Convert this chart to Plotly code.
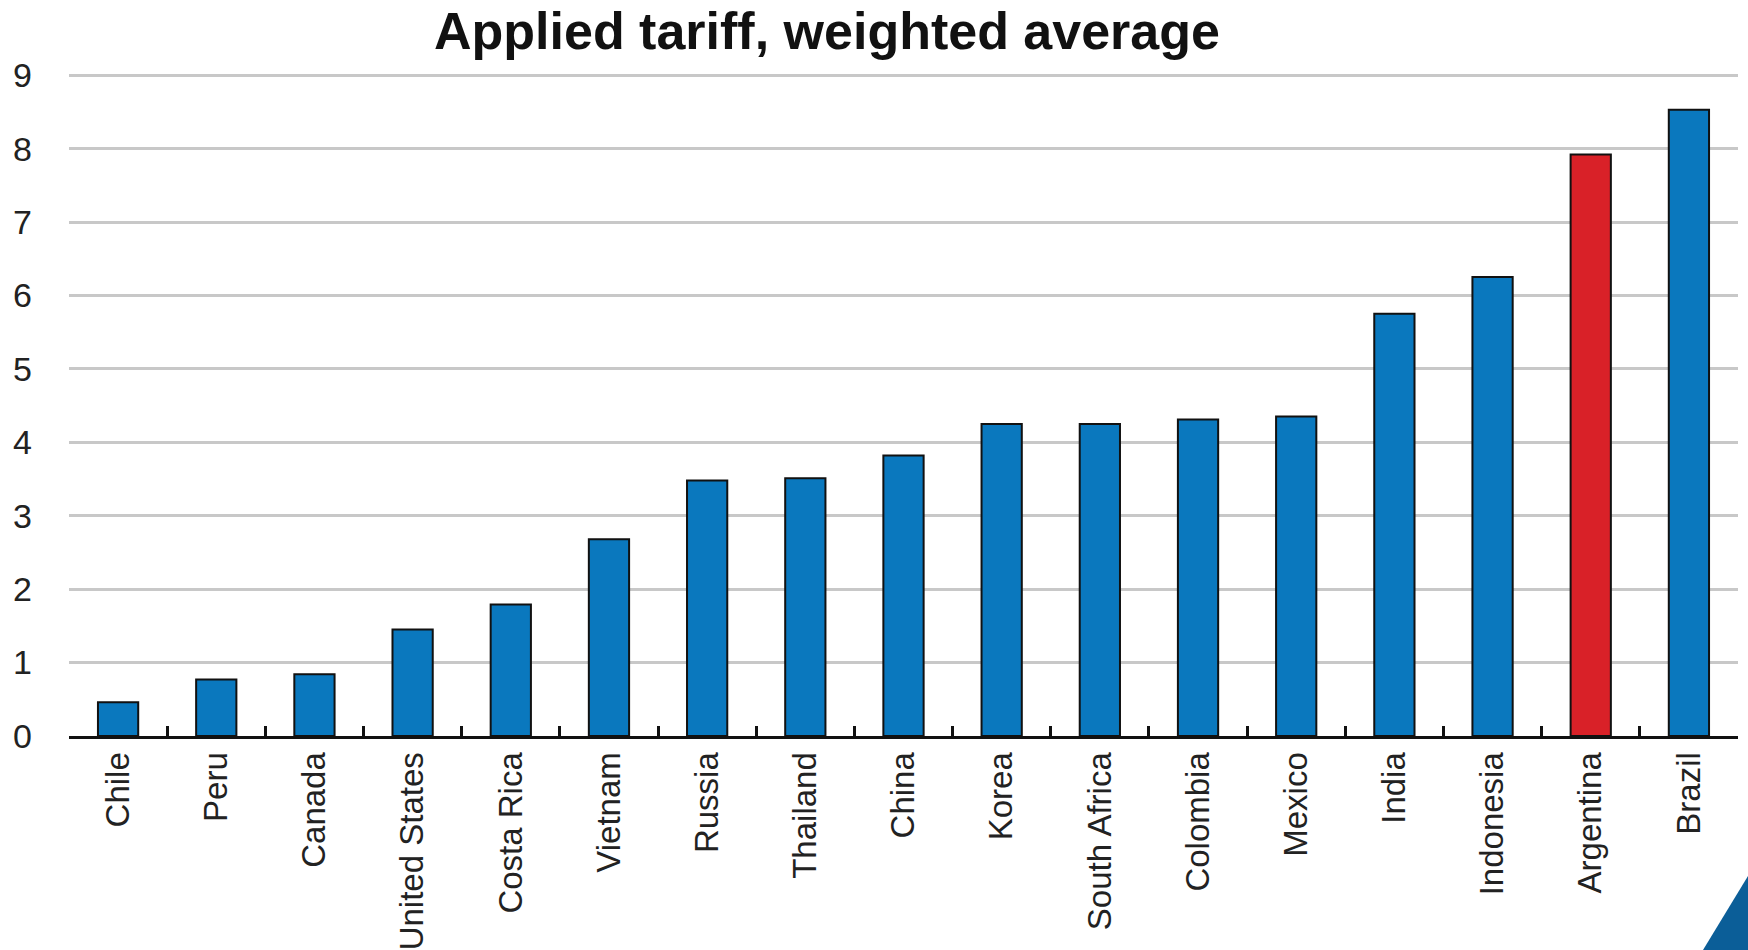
import plotly.graph_objects as go

# Applied tariff, weighted average, by country (percent)
countries = ["Chile", "Peru", "Canada", "United States", "Costa Rica", "Vietnam",
             "Russia", "Thailand", "China", "Korea", "South Africa", "Colombia",
             "Mexico", "India", "Indonesia", "Argentina", "Brazil"]
tariff = [0.46, 0.77, 0.84, 1.45, 1.79, 2.68, 3.48, 3.51, 3.82, 4.25, 4.25,
          4.31, 4.35, 5.75, 6.25, 7.92, 8.53]
highlight = "Argentina"
y_ticks = [0, 1, 2, 3, 4, 5, 6, 7, 8, 9]

BLUE = "#0a78be"
RED = "#d92128"
colors = [RED if c == highlight else BLUE for c in countries]

W, H = 1748, 950
ML, MR, MT, MB = 69, 10, 73, 214
Y_TOP = 9.03

fig = go.Figure(go.Bar(
    x=countries, y=tariff,
    marker=dict(color=colors, line=dict(color="#111111", width=2)),
))

fig.update_layout(
    width=W, height=H,
    margin=dict(l=ML, r=MR, t=MT, b=MB, pad=0),
    paper_bgcolor="white", plot_bgcolor="white",
    bargap=0.59,
    showlegend=False,
    font=dict(family="Liberation Sans, Arial, sans-serif", color="#111111"),
    title=dict(text="<b>Applied tariff, weighted average</b>",
               x=827 / W, xref="container", xanchor="center",
               y=1 - 31 / H, yref="container", yanchor="middle",
               font=dict(size=52, color="#111111")),
)

fig.update_xaxes(
    type="category", automargin=False,
    showline=True, linecolor="#111111", linewidth=3,
    ticks="inside", tickson="boundaries", ticklen=10, tickwidth=3, tickcolor="#111111",
    tickangle=-90, tickfont=dict(size=33, color="#222222"),
    showgrid=False, zeroline=False,
)

fig.update_yaxes(
    range=[0, Y_TOP], tickvals=y_ticks, automargin=False,
    showgrid=True, gridcolor="#c8c8c8", gridwidth=3,
    showline=False, zeroline=False, ticks="",
    ticklabelstandoff=36,
    tickfont=dict(size=34, color="#222222"),
)

# dark blue corner triangle at the bottom right of the page
pw = W - ML - MR
ph = H - MT - MB
def px(xp):
    return (xp - ML) / pw
def py(yp):
    return (H - MB - yp) / ph

fig.add_shape(
    type="path", xref="paper", yref="paper",
    path=f"M {px(1703)} {py(950)} L {px(1748)} {py(950)} L {px(1748)} {py(876)} Z",
    fillcolor="#0b5e98", line=dict(width=0), layer="above",
)

fig.write_html("out.html")
